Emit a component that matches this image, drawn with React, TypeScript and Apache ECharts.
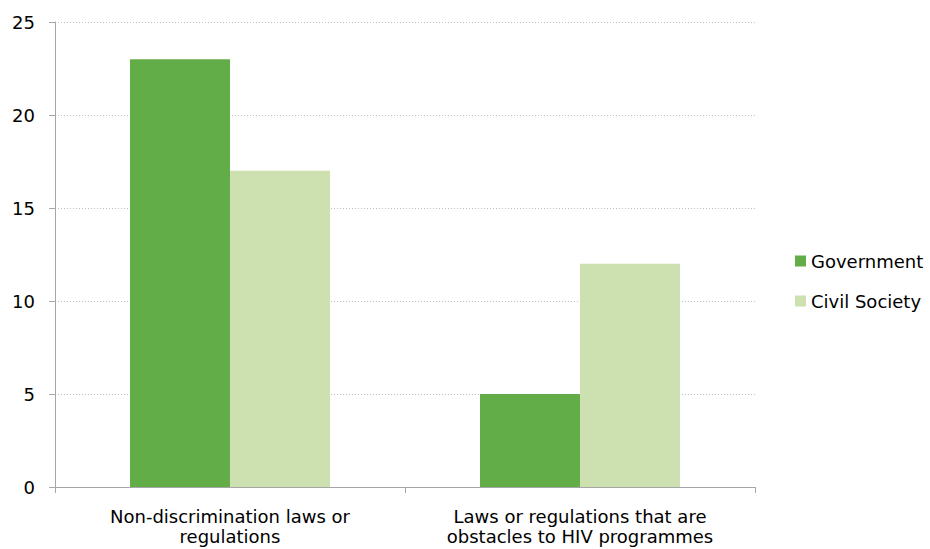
import React, { useEffect, useRef } from "react";
import * as echarts from "echarts";

const categories = [
  "Non-discrimination laws or\nregulations",
  "Laws or regulations that are\nobstacles to HIV programmes",
];
const government = [23, 5];
const civilSociety = [17, 12];
const yTicks = { min: 0, max: 25, interval: 5 };

export default function App() {
  const ref = useRef<HTMLDivElement>(null);

  useEffect(() => {
    if (!ref.current) return;
    const chart = echarts.init(ref.current, null, { renderer: "svg" });
    const font = "Tahoma, 'DejaVu Sans', 'Liberation Sans', sans-serif";
    chart.setOption({
      animation: false,
      textStyle: { fontFamily: font },
      grid: { left: 55, right: 175, top: 22, bottom: 62, containLabel: false },
      legend: {
        orient: "vertical",
        left: 790,
        top: 247,
        itemWidth: 11,
        itemHeight: 11,
        itemGap: 22,
        icon: "rect",
        textStyle: { fontSize: 18, color: "#000", fontFamily: font },
        data: ["Government", "Civil Society"],
      },
      xAxis: {
        type: "category",
        data: categories,
        axisLine: { lineStyle: { color: "#A6A6A6", width: 1 } },
        axisTick: { show: true, length: 6, lineStyle: { color: "#A6A6A6" } },
        axisLabel: { fontSize: 18, color: "#000", lineHeight: 20, margin: 19, fontFamily: font },
      },
      yAxis: {
        type: "value",
        min: yTicks.min,
        max: yTicks.max,
        interval: yTicks.interval,
        axisLine: { show: true, lineStyle: { color: "#A6A6A6", width: 1 } },
        axisTick: { show: true, length: 6, lineStyle: { color: "#A6A6A6" } },
        axisLabel: { fontSize: 18, color: "#000", margin: 20, fontFamily: font },
        splitLine: { show: true, lineStyle: { color: "#BFBFBF", type: [1, 2], width: 1 } },
      },
      series: [
        {
          name: "Government",
          type: "bar",
          data: government,
          barWidth: 100,
          barGap: "0%",
          itemStyle: { color: "#62AD47" },
        },
        {
          name: "Civil Society",
          type: "bar",
          data: civilSociety,
          barWidth: 100,
          barGap: "0%",
          itemStyle: { color: "#CDE0B0" },
        },
      ],
    });
    return () => chart.dispose();
  }, []);

  return <div ref={ref} style={{ width: 930, height: 549, position: "absolute", left: 0, top: 0, background: "#fff" }} />;
}
